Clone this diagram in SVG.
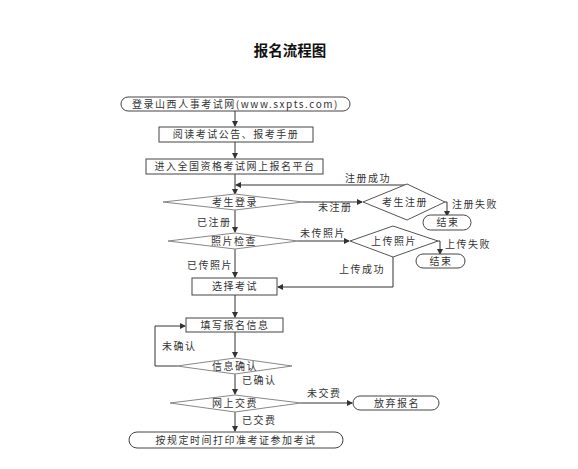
<svg xmlns="http://www.w3.org/2000/svg" width="578" height="469" viewBox="0 0 578 469">
<defs>
<marker id="ah" markerWidth="6" markerHeight="6" refX="5" refY="3" orient="auto" markerUnits="userSpaceOnUse">
<path d="M0,0 L6,3 L0,6 Z" fill="#333"/>
</marker>
<style>
.box{fill:#fff;stroke:#444;stroke-width:1}
.dia{fill:#fff;stroke:#888;stroke-width:1}
.dia2{fill:#fff;stroke:#555;stroke-width:1}
.ln{fill:none;stroke:#333;stroke-width:1}
.t{font-family:"Noto Sans CJK SC","Liberation Sans",sans-serif;font-size:10px;fill:#333;letter-spacing:1.5px}
.c{text-anchor:middle}
.title{font-family:"Noto Sans CJK SC","Liberation Sans",sans-serif;font-size:14.5px;font-weight:bold;fill:#111;text-anchor:middle}
</style>
</defs>
<rect width="578" height="469" fill="#fff"/>
<text class="title" x="290" y="56">报名流程图</text>

<g id="connectors">
<path class="ln" d="M235,110 V126" marker-end="url(#ah)"/>
<path class="ln" d="M235,142 V158" marker-end="url(#ah)"/>
<path class="ln" d="M235,174 V194" marker-end="url(#ah)"/>
<path class="ln" d="M407,185 H236" marker-end="url(#ah)"/>
<path class="ln" d="M303,202 H362" marker-end="url(#ah)"/>
<path class="ln" d="M445,202 H447 V216" marker-end="url(#ah)"/>
<path class="ln" d="M235,210 V232" marker-end="url(#ah)"/>
<path class="ln" d="M298,241 H349" marker-end="url(#ah)"/>
<path class="ln" d="M438,241 H440 V254" marker-end="url(#ah)"/>
<path class="ln" d="M393,257 V287 H278" marker-end="url(#ah)"/>
<path class="ln" d="M235,249 V277" marker-end="url(#ah)"/>
<path class="ln" d="M235,295 V317" marker-end="url(#ah)"/>
<path class="ln" d="M235,332 V357" marker-end="url(#ah)"/>
<path class="ln" d="M177,366 H155 V326 H185" marker-end="url(#ah)"/>
<path class="ln" d="M235,374 V394" marker-end="url(#ah)"/>
<path class="ln" d="M301,403 H352" marker-end="url(#ah)"/>
<path class="ln" d="M235,412 V431" marker-end="url(#ah)"/>
<text class="t" x="345" y="182">注册成功</text>
<text class="t" x="318" y="211">未注册</text>
<text class="t" x="452" y="208">注册失败</text>
<text class="t" x="197" y="226">已注册</text>
<text class="t" x="300" y="237">未传照片</text>
<text class="t" x="445" y="248">上传失败</text>
<text class="t" x="339" y="273">上传成功</text>
<text class="t" x="187" y="269">已传照片</text>
<text class="t" x="162" y="350">未确认</text>
<text class="t" x="242" y="384">已确认</text>
<text class="t" x="307" y="397">未交费</text>
<text class="t" x="242" y="424">已交费</text>
</g>

<g id="n-login-site">
<rect class="box" x="121" y="97" width="229" height="14" rx="7" ry="7"/>
<text class="t" x="132" y="108" textLength="207" lengthAdjust="spacing">登录山西人事考试网(www.sxpts.com)</text>
</g>
<g id="n-read">
<rect class="box" x="159" y="127" width="154" height="15"/>
<text class="t c" x="236" y="138">阅读考试公告、报考手册</text>
</g>
<g id="n-enter">
<rect class="box" x="146" y="159" width="177" height="15"/>
<text class="t c" x="235" y="170">进入全国资格考试网上报名平台</text>
</g>
<g id="n-login">
<polygon class="dia" points="163,202 235,194 303,202 235,210"/>
<text class="t c" x="235" y="206">考生登录</text>
</g>
<g id="n-register">
<polygon class="dia2" points="363,202 407,184 445,202 407,220"/>
<text class="t c" x="405" y="206">考生注册</text>
</g>
<g id="n-end1">
<rect class="box" x="423" y="215" width="48" height="15" rx="7.5" ry="7.5"/>
<text class="t c" x="448" y="226">结束</text>
</g>
<g id="n-photo-check">
<polygon class="dia" points="168,241 235,233 298,241 235,249"/>
<text class="t c" x="234" y="245">照片检查</text>
</g>
<g id="n-upload">
<polygon class="dia2" points="350,241 393,226 438,241 393,257"/>
<text class="t c" x="394" y="245">上传照片</text>
</g>
<g id="n-end2">
<rect class="box" x="416" y="254" width="49" height="14" rx="7" ry="7"/>
<text class="t c" x="441" y="265">结束</text>
</g>
<g id="n-choose">
<rect class="box" x="192" y="278" width="85" height="17"/>
<text class="t c" x="235" y="290">选择考试</text>
</g>
<g id="n-fill">
<rect class="box" x="186" y="318" width="97" height="14"/>
<text class="t c" x="235" y="329">填写报名信息</text>
</g>
<g id="n-confirm">
<polygon class="dia" points="177,366 235,358 292,366 235,374"/>
<text class="t c" x="235" y="370">信息确认</text>
</g>
<g id="n-pay">
<polygon class="dia" points="170,403 235,395 301,403 235,412"/>
<text class="t c" x="235" y="407">网上交费</text>
</g>
<g id="n-abandon">
<rect class="box" x="353" y="396" width="86" height="14" rx="7" ry="7"/>
<text class="t c" x="397" y="407">放弃报名</text>
</g>
<g id="n-exam">
<rect class="box" x="129" y="432" width="214" height="16" rx="8" ry="8"/>
<text class="t c" x="236" y="444">按规定时间打印准考证参加考试</text>
</g>
</svg>
